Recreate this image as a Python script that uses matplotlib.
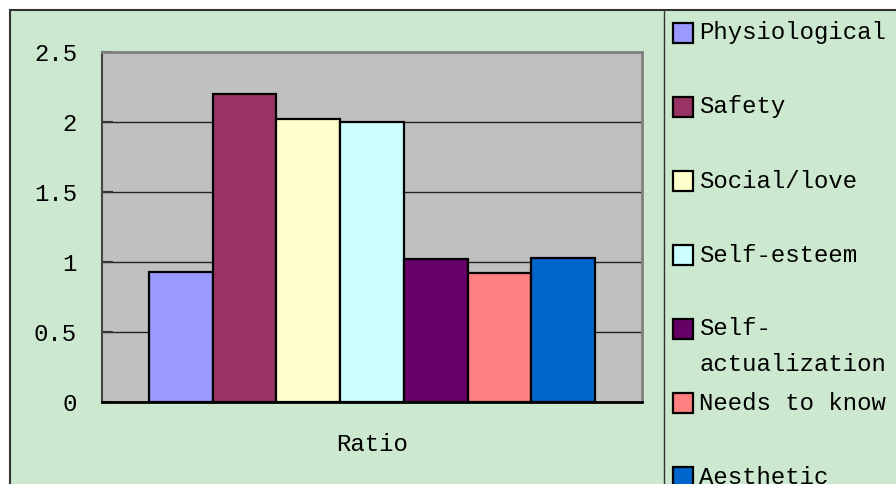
import matplotlib
matplotlib.use("Agg")
import matplotlib.pyplot as plt
from matplotlib.patches import Rectangle
from matplotlib.lines import Line2D
import numpy as np

# data
categories = ["Physiological", "Safety", "Social/love", "Self-esteem",
              "Self-\nactualization", "Needs to know", "Aesthetic"]
ratios = [0.93, 2.2, 2.02, 2.0, 1.02, 0.92, 1.03]
colors = ["#9999FF", "#993366", "#FFFFCC", "#CCFFFF", "#660066", "#FF8080", "#0066CC"]
yticks = [0, 0.5, 1, 1.5, 2, 2.5]
ytick_labels = ["0", "0.5", "1", "1.5", "2", "2.5"]
group_label = "Ratio"

W, H = 896, 484
FS = 17.3
plt.rcParams['font.family'] = ['Liberation Mono', 'DejaVu Sans Mono']
fig = plt.figure(figsize=(W / 100, H / 100), dpi=100)
fig.patch.set_facecolor("white")

def fx(x):
    return x / W

def fy(y):
    return 1 - y / H

# outer chart area (green) and legend divider
fig.add_artist(Rectangle((fx(10), fy(500)), fx(900) - fx(10), fy(10) - fy(500),
                         transform=fig.transFigure, facecolor="#CCE8CF",
                         edgecolor="#333333", linewidth=1.5, zorder=0))
fig.add_artist(Line2D([fx(664), fx(664)], [fy(10), fy(490)], transform=fig.transFigure,
                      color="#333333", linewidth=1.0))

ax = fig.add_axes([fx(102), fy(402), fx(642) - fx(102), fy(52) - fy(402)])
ax.set_facecolor("#C0C0C0")

n = len(ratios)
xs = np.arange(n) - (n - 1) / 2
ax.bar(xs, ratios, width=1.0, color=colors, edgecolor="black", linewidth=1.6, zorder=3)

ax.set_xlim(-4.24, 4.24)
ax.set_ylim(0, 2.5)
ax.set_yticks(yticks)
ax.set_yticklabels(ytick_labels, fontsize=FS)
ax.yaxis.grid(True, color="#222222", linewidth=1.0, zorder=1)
ax.tick_params(axis="y", direction="in", length=8, width=1.5, color="#333333", pad=18)
ax.set_xticks([0])
ax.set_xticklabels([group_label], fontsize=FS)
ax.tick_params(axis="x", length=0, pad=22)

for side in ["top", "right"]:
    ax.spines[side].set_color("#808080")
    ax.spines[side].set_linewidth(2)
ax.spines["left"].set_color("#444444")
ax.spines["left"].set_linewidth(1.5)
ax.spines["bottom"].set_color("black")
ax.spines["bottom"].set_linewidth(2)
ax.spines["bottom"].set_zorder(4)

# legend
for i, (name, c) in enumerate(zip(categories, colors)):
    cy = 33 + 74 * i
    fig.add_artist(Rectangle((fx(673), fy(cy + 10)), fx(693) - fx(673), fy(cy - 10) - fy(cy + 10),
                             transform=fig.transFigure, facecolor=c,
                             edgecolor="black", linewidth=1.6))
    if "\n" in name:
        fig.text(fx(699), fy(cy + 17.5), name, fontsize=FS, va="center", ha="left",
                 linespacing=1.7)
    else:
        fig.text(fx(699), fy(cy), name, fontsize=FS, va="center", ha="left")

fig.savefig("out.png", dpi=100)
